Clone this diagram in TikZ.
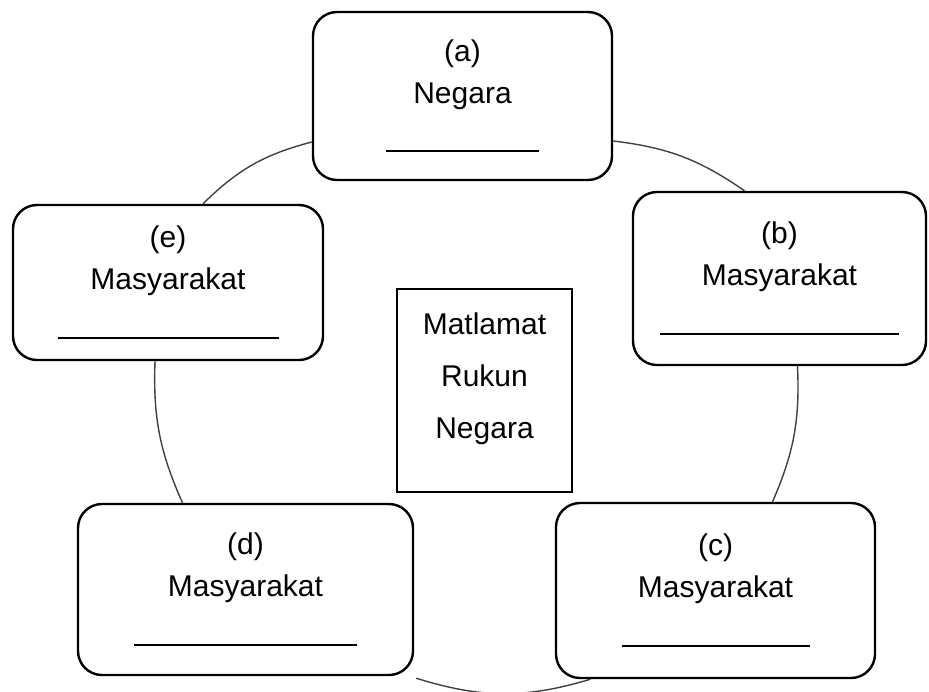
\documentclass[tikz,border=0pt]{standalone}
\usepackage{fontspec}
\setmainfont{Liberation Sans}
\usetikzlibrary{calc,backgrounds}

\begin{document}
\begin{tikzpicture}
[x=0.5pt,y=-0.5pt,
  boxDecorate/.style={shape=rectangle,rounded corners=12pt,draw,line width=1.2pt,fill=white,
    align=center,inner sep=0pt,font=\fontsize{15}{21}\selectfont},
  centreDecorate/.style={shape=rectangle,draw,line width=1.3pt,fill=white,
    align=center,inner sep=0pt,font=\fontsize{15}{26}\selectfont},
  lineDecorate/.style={-,line width=0.7pt,black!75}]
\useasboundingbox (0,0) rectangle (929,691);
%% boxes round the circle
\foreach \nodename/\x/\y/\w/\h/\lbl/\word/\blank in
  {a/462.5/96/149.5/84/(a)/Negara/76.5,
   b/779.5/278.5/146.5/86.5/(b)/Masyarakat/119.5,
   c/715.5/590.5/159.5/87.5/(c)/Masyarakat/94,
   d/245.5/589.5/167.5/85.5/(d)/Masyarakat/111.5,
   e/168/282.5/155/77.5/(e)/Masyarakat/110.5}
{
  \node (\nodename) at (\x,\y) [boxDecorate,minimum width=\w pt,minimum height=\h pt]
    {\lbl\\\word\\[3.5pt]\rule{\blank pt}{1pt}};
}
%% centre box
\node (goal) at (484.5,390.5) [centreDecorate,minimum width=87.5pt,minimum height=101.5pt,text depth=15pt]
  {Matlamat\\Rukun\\Negara};
%% circle pieces
\begin{scope}[on background layer]
\draw[lineDecorate] ($(e.north)+(35,0)$) to[bend left=15] ($(a.west)+(0,46)$);
\draw[lineDecorate] ($(a.east)+(0,45)$) to[bend left=14] ($(b.north)+(-35,0)$);
\draw[lineDecorate] ($(b.south)+(18,0)$) to[bend left=13] ($(c.north)+(57,0)$);
\draw[lineDecorate] ($(c.south)+(-125,0)$) to[bend left=17] ($(d.south east)+(2,2)$);
\draw[lineDecorate] ($(d.north)+(-63,0)$) to[bend left=13] ($(e.south)+(-13,0)$);
\end{scope}
\end{tikzpicture}
\end{document}
